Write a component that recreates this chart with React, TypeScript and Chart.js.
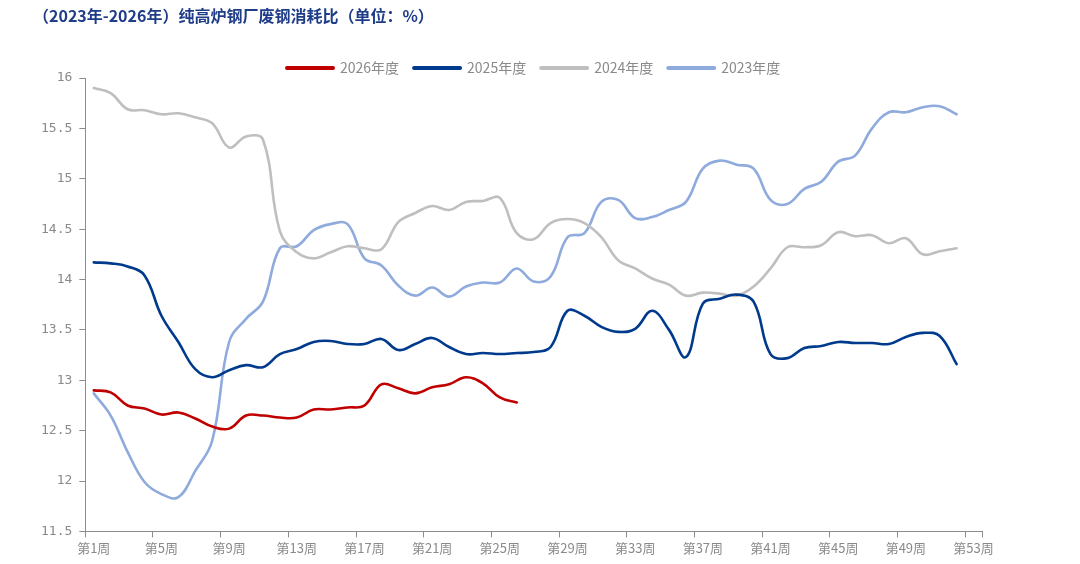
import React, { useEffect, useRef } from "react";
import { Chart, registerables } from "chart.js";

Chart.register(...registerables);

const weekLabels: string[] = Array.from({ length: 53 }, (_, i) => `第${i + 1}周`);

const seriesNames = ["2026年度", "2025年度", "2024年度", "2023年度"];

const values2026 = [
  12.9, 12.88, 12.75, 12.72, 12.66, 12.68, 12.62, 12.54, 12.52, 12.65,
  12.65, 12.63, 12.63, 12.71, 12.71, 12.73, 12.75, 12.96, 12.92, 12.87,
  12.93, 12.96, 13.03, 12.97, 12.83, 12.78,
];

const values2025 = [
  14.17, 14.16, 14.13, 14.04, 13.64, 13.38, 13.11, 13.03, 13.1, 13.15,
  13.13, 13.26, 13.31, 13.38, 13.39, 13.36, 13.36, 13.41, 13.3, 13.36,
  13.42, 13.33, 13.26, 13.27, 13.26, 13.27, 13.28, 13.33, 13.69, 13.64,
  13.53, 13.48, 13.51, 13.69, 13.5, 13.23, 13.76, 13.81, 13.85, 13.78,
  13.26, 13.22, 13.32, 13.34, 13.38, 13.37, 13.37, 13.36, 13.43, 13.47,
  13.44, 13.16,
];

const values2024 = [
  15.9, 15.85, 15.69, 15.68, 15.64, 15.65, 15.61, 15.55, 15.31, 15.42,
  15.39, 14.48, 14.27, 14.21, 14.27, 14.33, 14.31, 14.3, 14.57, 14.66,
  14.73, 14.69, 14.77, 14.78, 14.81, 14.46, 14.4, 14.56, 14.6, 14.56,
  14.42, 14.19, 14.11, 14.01, 13.95, 13.84, 13.87, 13.86, 13.84, 13.93,
  14.11, 14.32, 14.32, 14.34, 14.47, 14.43, 14.44, 14.36, 14.41, 14.25,
  14.28, 14.31,
];

const values2023 = [
  12.87, 12.65, 12.29, 11.99, 11.87, 11.84, 12.1, 12.4, 13.38, 13.61,
  13.78, 14.31, 14.33, 14.49, 14.55, 14.55, 14.21, 14.14, 13.94, 13.84,
  13.92, 13.83, 13.93, 13.97, 13.97, 14.11, 13.98, 14.03, 14.42, 14.46,
  14.77, 14.79, 14.61, 14.62, 14.69, 14.77, 15.1, 15.18, 15.14, 15.1,
  14.79, 14.75, 14.9, 14.97, 15.17, 15.23, 15.5, 15.66, 15.66, 15.71,
  15.72, 15.64,
];

const seriesColors = ["#C00000", "#003A8C", "#BFBFBF", "#8FAADC"];

const yMin = 11.5;
const yMax = 16;
const yStep = 0.5;

const TITLE = "（2023年-2026年）纯高炉钢厂废钢消耗比（单位：%）";

const CJK = '"Noto Sans CJK SC", sans-serif';
const MONO = '"DejaVu Sans Mono", monospace';
const AXIS_GRAY = "#8c8c8c";
const TEXT_GRAY = "#8a8a8a";

export default function App() {
  const canvasRef = useRef<HTMLCanvasElement>(null);

  useEffect(() => {
    if (!canvasRef.current) return;
    const allValues = [values2026, values2025, values2024, values2023];
    const chart = new Chart(canvasRef.current, {
      type: "line",
      data: {
        labels: weekLabels,
        datasets: allValues.map((vals, i) => ({
          label: seriesNames[i],
          data: vals,
          borderColor: seriesColors[i],
          backgroundColor: seriesColors[i],
          borderWidth: 2.6,
          pointRadius: 0,
          pointHoverRadius: 0,
          tension: 0.4,
          fill: false,
          borderCapStyle: "round" as const,
          borderJoinStyle: "round" as const,
        })),
      },
      options: {
        animation: false,
        responsive: true,
        maintainAspectRatio: false,
        layout: {
          padding: { top: 46, left: 34, right: 98, bottom: 5 },
        },
        plugins: {
          tooltip: { enabled: false },
          title: { display: false },
          legend: {
            display: true,
            position: "top",
            fullSize: false,
            maxHeight: 32,
            labels: {
              usePointStyle: true,
              pointStyle: "line",
              pointStyleWidth: 46,
              padding: 15,
              color: TEXT_GRAY,
              font: { size: 14, family: CJK },
              generateLabels: (c: any) =>
                Chart.defaults.plugins.legend.labels
                  .generateLabels(c)
                  .map((l: any) => ({ ...l, lineWidth: 4, lineCap: "round" })),
            },
          },
        },
        scales: {
          x: {
            type: "category",
            offset: true,
            grid: {
              display: true,
              offset: true,
              drawOnChartArea: false,
              drawTicks: true,
              tickLength: 6,
              color: (ctx: any) =>
                ctx.index === undefined || ctx.index % 4 === 0 ? AXIS_GRAY : "rgba(0,0,0,0)",
            },
            border: { display: true, color: AXIS_GRAY, width: 1 },
            ticks: {
              autoSkip: false,
              maxRotation: 0,
              minRotation: 0,
              padding: 3,
              color: TEXT_GRAY,
              font: { size: 13, family: CJK },
              callback: function (this: any, value: any, index: number) {
                return index % 4 === 0 ? this.getLabelForValue(value) : "";
              },
            },
          },
          y: {
            type: "linear",
            min: yMin,
            max: yMax,
            grid: {
              display: true,
              drawOnChartArea: false,
              drawTicks: true,
              tickLength: 6,
              color: AXIS_GRAY,
            },
            border: { display: true, color: AXIS_GRAY, width: 1 },
            ticks: {
              stepSize: yStep,
              padding: 7,
              color: TEXT_GRAY,
              font: { size: 13, family: MONO },
              callback: (v: any) => String(Number(v)),
            },
          },
        },
      },
    });
    return () => chart.destroy();
  }, []);

  return (
    <div
      style={{
        position: "absolute",
        left: 0,
        top: 0,
        width: 1080,
        height: 564,
        background: "#ffffff",
        overflow: "hidden",
      }}
    >
      <div style={{ position: "absolute", left: 0, top: 0, width: 1080, height: 564 }}>
        <canvas ref={canvasRef} />
      </div>
      <div
        style={{
          position: "absolute",
          left: 33,
          top: 5,
          fontFamily: CJK,
          fontWeight: 700,
          fontSize: 16,
          lineHeight: "20px",
          color: "#1F3C88",
          whiteSpace: "nowrap",
        }}
      >
        {TITLE}
      </div>
    </div>
  );
}
